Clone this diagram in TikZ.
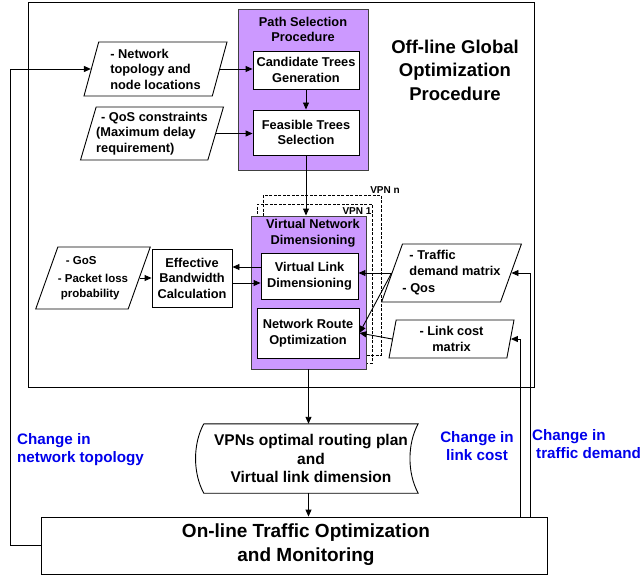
\documentclass[tikz,border=0pt]{standalone}
\usepackage{fontspec}
\setmainfont{Liberation Sans}
\usetikzlibrary{shapes.geometric,arrows.meta}
\definecolor{procpurple}{RGB}{204,153,255}
\definecolor{fbblue}{RGB}{0,0,235}
\begin{document}
\begin{tikzpicture}[x=1pt,y=-1pt,
  txt/.style={font=\fontsize{12.8}{15.5}\selectfont\bfseries, align=center, inner sep=0pt},
  box/.style={txt, draw, fill=white, line width=0.9pt},
  proc/.style={draw=black!75, fill=procpurple, line width=0.9pt, inner sep=0pt},
  vpnbox/.style={draw, dash pattern=on 3pt off 1.5pt, line width=0.9pt, inner sep=0pt},
  para/.style={txt, draw, fill=white, line width=0.9pt, trapezium, trapezium stretches body, align=left},
  fbtxt/.style={font=\fontsize{15.2}{18}\selectfont\bfseries, text=fbblue, align=left, inner sep=0pt},
  arr/.style={-{Triangle[length=7pt,width=6pt]}, line width=0.9pt}]
\useasboundingbox (0,0) rectangle (642,575);

\node[draw, line width=1pt, minimum width=506, minimum height=384, inner sep=0pt] (offline) at (281,195) {};
\node[font=\fontsize{18.5}{23.5}\selectfont\bfseries, align=center] (offtitle) at (455,70) {Off-line Global\\Optimization\\Procedure};

\node[proc, minimum width=130, minimum height=161] (pathsel) at (303,89.5) {};
\node[txt] (pathtitle) at (303,29.5) {Path Selection\\Procedure};
\node[box, minimum width=106, minimum height=38] (cand) at (306,70) {Candidate Trees\\Generation};
\node[box, minimum width=106, minimum height=45] (feas) at (306,132.5) {Feasible Trees\\Selection};

\node[para, trapezium left angle=70, trapezium right angle=110, minimum width=143, minimum height=54] (net) at (155.5,69) {- Network\\topology and\\node locations};
\node[para, trapezium left angle=70, trapezium right angle=110, minimum width=142, minimum height=53] (qos) at (152,133.5) {\hspace*{5pt}- QoS constraints\\(Maximum delay\\requirement)};

\node[vpnbox, minimum width=118, minimum height=160] (vpnn) at (322,275) {};
\node[vpnbox, minimum width=115, minimum height=159] (vpn1) at (314.5,283.5) {};
\node[font=\fontsize{10}{12}\selectfont\bfseries, inner sep=0pt] (vpnnlbl) at (385,190) {VPN n};
\node[font=\fontsize{10}{12}\selectfont\bfseries, inner sep=0pt] (vpn1lbl) at (357,211) {VPN 1};

\node[proc, minimum width=115, minimum height=153] (vnd) at (308.5,292.5) {};
\node[txt] (vndtitle) at (313,233) {Virtual Network\\Dimensioning};
\node[box, minimum width=97, minimum height=46] (vld) at (309.5,276) {Virtual Link\\Dimensioning};
\node[box, minimum width=102, minimum height=50] (nro) at (308,333) {Network Route\\Optimization};

\node[box, minimum width=80, minimum height=58] (ebc) at (192,278) {Effective\\Bandwidth\\Calculation};
\node[para, trapezium left angle=63, trapezium right angle=117, minimum width=112, minimum height=62, font=\fontsize{11.5}{15}\selectfont\bfseries] (gos) at (93,278) {\hspace*{8pt}- GoS\\[3pt]- Packet loss\\\hspace*{3pt}probability};

\node[para, trapezium left angle=65, trapezium right angle=115, minimum width=135, minimum height=58] (traffic) at (451.5,273) {\hspace*{7pt}- Traffic\\\hspace*{7pt}demand matrix\\[2pt]- Qos};
\node[para, trapezium left angle=74, trapezium right angle=106, minimum width=125, minimum height=38, align=center] (link) at (451.5,339) {- Link cost\\matrix};

\node[txt, font=\fontsize{15.5}{18.5}\selectfont\bfseries, minimum width=214, minimum height=69] (plan) at (311,458.5) {VPNs optimal routing plan\\and\\Virtual link dimension};
\draw[line width=0.9pt] (plan.north west) -- (plan.north east) .. controls +(-11,20) and +(-11,-20) .. (plan.south east) -- (plan.south west) .. controls +(-11,-20) and +(-11,20) .. (plan.north west);

\node[draw, line width=0.9pt, minimum width=506, minimum height=57, inner sep=0pt] (online) at (294,545.5) {};
\node[font=\fontsize{19}{24}\selectfont\bfseries, align=center] (onlinetxt) at (306,545) {On-line Traffic Optimization\\and Monitoring};

\node[fbtxt, anchor=west] (chtopo) at (17,450) {Change in\\network topology};
\node[fbtxt, align=center] (chcost) at (477,446) {Change in\\link cost};
\node[fbtxt, anchor=west] (chdem) at (532,444.5) {Change in\\\hspace*{4pt}traffic demand};

\draw[arr] (net.right side) -- (net.right side -| cand.west);
\draw[arr] (qos.right side) -- (qos.right side -| feas.west);
\draw[arr] (cand) -- (feas);
\draw[arr] (feas.south) -- (feas.south |- vnd.north);

\draw[arr] ([yshift=9pt]vld.west) -- ([yshift=9pt]vld.west -| ebc.east);
\draw[arr] ([yshift=-5pt]ebc.east) -- ([yshift=-5pt]ebc.east -| vld.west);
\draw[arr] (gos.right side) -- (ebc.west);
\draw[arr] (traffic.left side) -- (traffic.left side -| vld.east);
\draw[arr] (traffic.left side) -- (nro.east);
\draw[arr] (link.left side) -- (nro.east);

\draw[arr] (vnd.south) -- (vnd.south |- plan.north);
\draw[arr] (plan.south -| vnd.south) -- (online.north -| vnd.south);

\coordinate (fbnet) at (10,0);
\coordinate (fbcost) at (520,0);
\coordinate (fbdem) at (530,0);
\draw[arr] (online.west) -- (online.west -| fbnet) |- (net.left side);
\draw[arr] (online.north -| fbcost) |- (link.right side);
\draw[arr] (online.north -| fbdem) |- (traffic.right side);
\end{tikzpicture}
\end{document}
